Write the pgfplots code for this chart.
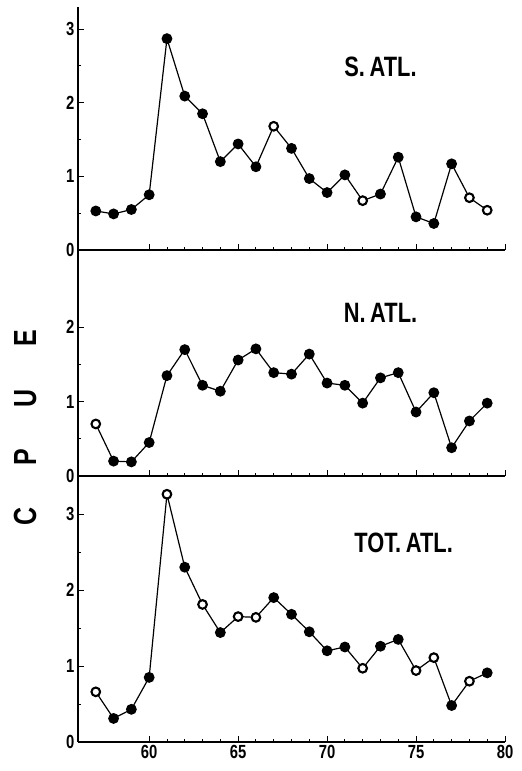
\documentclass[border=0pt]{standalone}
\usepackage{fontspec}
\setmainfont{Liberation Sans}[FakeStretch=0.78]
\usepackage{pgfplots}
\pgfplotsset{compat=1.18}

\tikzset{lab/.style={font=\fontsize{28}{28}\selectfont\bfseries}}
\pgfplotsset{
  panel/.style={
    scale only axis, width=427pt,
    xmin=56, xmax=80, ymin=0,
    axis x line=bottom, axis y line=left,
    axis line style={-, line width=1.6pt},
    tick align=inside,
    xtick={60,65,70,75,80}, minor x tick num=4,
    minor y tick num=1,
    major tick length=6pt, minor tick length=3pt,
    every tick/.style={black, line width=0.9pt},
    /pgf/number format/assume math mode=true,
    tick label style={font=\fontsize{19}{19}\selectfont\bfseries},
    clip=false,
  },
  cpue/.style={black, line width=1.2pt, mark=*, mark size=4.8pt,
    mark options={fill=black}},
  hollow/.style={only marks, mark=*, mark size=4.0pt,
    mark options={fill=white, draw=black, line width=1.5pt}},
}

\begin{document}
\begin{tikzpicture}
\useasboundingbox (-78pt,-29pt) rectangle (444pt,742pt);

% TOT. ATL.
\begin{axis}[panel, at={(0pt,0pt)}, height=266pt, ymax=3.5,
  ytick={0,1,2,3}]
\addplot[cpue] coordinates {
 (57,0.66)(58,0.31)(59,0.43)(60,0.85)(61,3.26)(62,2.30)(63,1.81)(64,1.44)
 (65,1.65)(66,1.64)(67,1.90)(68,1.68)(69,1.45)(70,1.20)(71,1.25)(72,0.97)
 (73,1.26)(74,1.35)(75,0.94)(76,1.11)(77,0.48)(78,0.80)(79,0.91)
};
\addplot[hollow] coordinates {(57,0.66)(61,3.26)(63,1.81)(65,1.65)(66,1.64)(72,0.97)(75,0.94)(76,1.11)(78,0.80)};
\node[lab] at (axis cs:74.3,2.62) {TOT.\,ATL.};
\end{axis}

% N. ATL.
\begin{axis}[panel, at={(0pt,266pt)}, height=226pt, ymax=3.04,
  ytick={0,1,2}, xticklabels={}]
\addplot[cpue] coordinates {
 (57,0.70)(58,0.20)(59,0.19)(60,0.45)(61,1.35)(62,1.70)(63,1.22)(64,1.14)
 (65,1.56)(66,1.71)(67,1.39)(68,1.37)(69,1.64)(70,1.25)(71,1.22)(72,0.98)
 (73,1.32)(74,1.39)(75,0.86)(76,1.12)(77,0.38)(78,0.74)(79,0.98)
};
\addplot[hollow] coordinates {(57,0.70)};
\node[lab] at (axis cs:73.0,2.19) {N.\,ATL.};
\end{axis}

% S. ATL.
\begin{axis}[panel, at={(0pt,492pt)}, height=243pt, ymax=3.3,
  ytick={0,1,2,3}, xticklabels={}]
\addplot[cpue] coordinates {
 (57,0.53)(58,0.49)(59,0.55)(60,0.75)(61,2.87)(62,2.09)(63,1.85)(64,1.20)
 (65,1.44)(66,1.13)(67,1.68)(68,1.38)(69,0.97)(70,0.78)(71,1.02)(72,0.67)
 (73,0.76)(74,1.26)(75,0.45)(76,0.36)(77,1.17)(78,0.71)(79,0.54)
};
\addplot[hollow] coordinates {(67,1.68)(72,0.67)(78,0.71)(79,0.54)};
\node[lab] at (axis cs:73.0,2.49) {S.\,ATL.};
\end{axis}

\node[rotate=90, font=\fontsize{32}{32}\selectfont\bfseries] at (-53pt,314pt)
  {C\hspace{42pt}P\hspace{42pt}U\hspace{42pt}E};
\end{tikzpicture}
\end{document}
